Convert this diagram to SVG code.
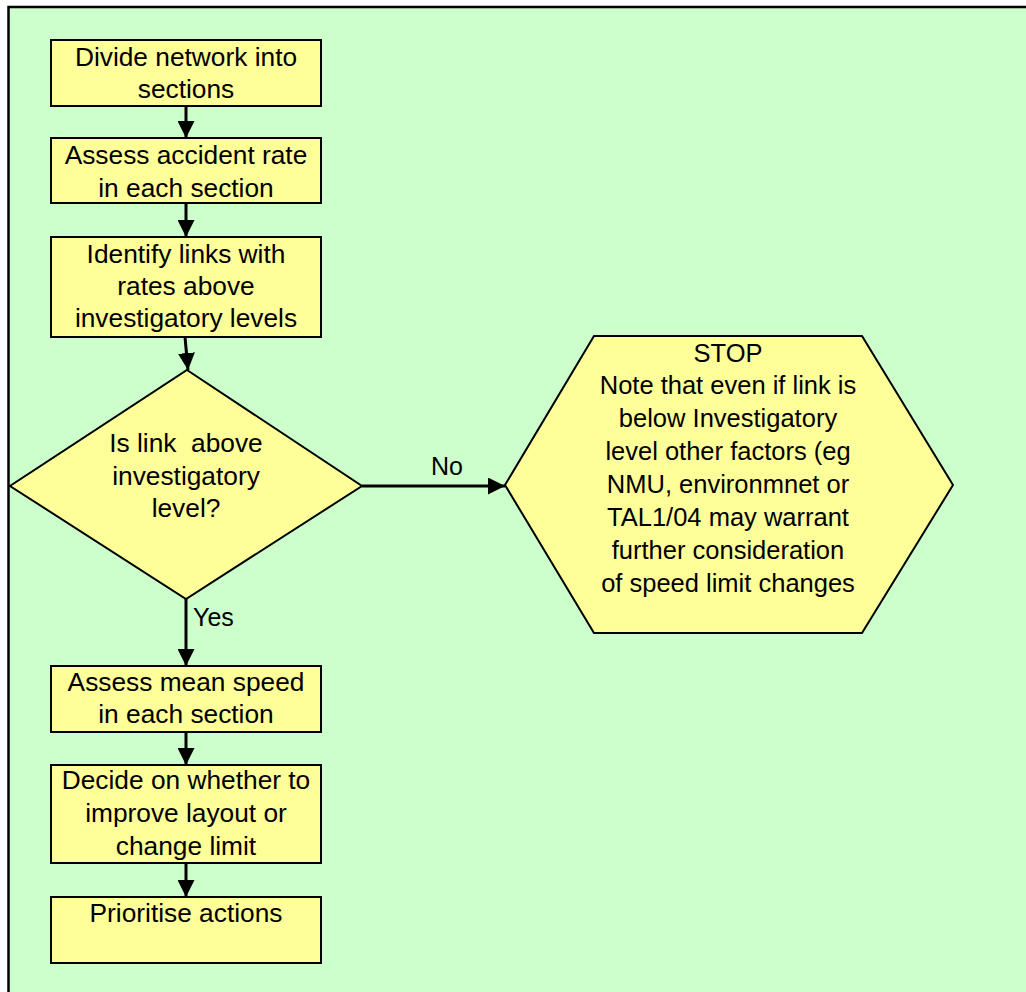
<svg xmlns="http://www.w3.org/2000/svg" width="1026" height="992" viewBox="0 0 1026 992">
<style>
.bg{fill:#CCFFCC;stroke:#000;stroke-width:2.5}
.n{fill:#FFFF99;stroke:#000;stroke-width:2}
.t{font-family:"Liberation Sans",Arial,sans-serif;font-size:26.3px;fill:#000;text-anchor:middle}
.h{font-size:25.5px}
.c{stroke:#000;stroke-width:3;fill:none}
.l{font-family:"Liberation Sans",Arial,sans-serif;font-size:25px;fill:#000}
</style>
<defs>
<marker id="ah" markerUnits="userSpaceOnUse" markerWidth="17" markerHeight="17" refX="16" refY="8" orient="auto" viewBox="0 0 16 16">
<path d="M0,0 L16,8 L0,16 z" fill="#000"/>
</marker>
</defs>
<rect width="1026" height="992" fill="#fff"/>
<rect class="bg" x="8.5" y="7" width="1030" height="1000"/>
<g id="connectors">
<line class="c" x1="186" y1="106" x2="186" y2="138" marker-end="url(#ah)"/>
<line class="c" x1="186" y1="203" x2="186" y2="237" marker-end="url(#ah)"/>
<line class="c" x1="185" y1="337" x2="188" y2="370" marker-end="url(#ah)"/>
<line class="c" x1="362" y1="486" x2="505" y2="486" marker-end="url(#ah)"/>
<line class="c" x1="186" y1="599" x2="186" y2="666" marker-end="url(#ah)"/>
<line class="c" x1="186" y1="732" x2="186" y2="765" marker-end="url(#ah)"/>
<line class="c" x1="186" y1="863" x2="186" y2="897" marker-end="url(#ah)"/>
<text class="l" x="431" y="475">No</text>
<text class="l" x="193" y="626">Yes</text>
</g>
<g id="n1">
<rect class="n" x="51" y="40" width="270" height="66"/>
<text class="t" x="186" y="66">Divide network into</text>
<text class="t" x="186" y="98">sections</text>
</g>
<g id="n2">
<rect class="n" x="51" y="138" width="270" height="65"/>
<text class="t" x="186" y="164">Assess accident rate</text>
<text class="t" x="186" y="197">in each section</text>
</g>
<g id="n3">
<rect class="n" x="51" y="237" width="270" height="100"/>
<text class="t" x="186" y="263">Identify links with</text>
<text class="t" x="186" y="295">rates above</text>
<text class="t" x="186" y="327">investigatory levels</text>
</g>
<g id="n4">
<polygon class="n" points="187,370 362,486 186,599 10,486"/>
<text class="t" x="186" y="452" style="white-space:pre">Is link  above</text>
<text class="t" x="186" y="485">investigatory</text>
<text class="t" x="186" y="517">level?</text>
</g>
<g id="n5">
<polygon class="n" points="594,336 862,336 953,485 862,633 594,633 505,485"/>
<text class="t h" x="728" y="362">STOP</text>
<text class="t h" x="728" y="394">Note that even if link is</text>
<text class="t h" x="728" y="427">below Investigatory</text>
<text class="t h" x="728" y="460">level other factors (eg</text>
<text class="t h" x="728" y="493">NMU, environmnet or</text>
<text class="t h" x="728" y="526">TAL1/04 may warrant</text>
<text class="t h" x="728" y="559">further consideration</text>
<text class="t h" x="728" y="592">of speed limit changes</text>
</g>
<g id="n6">
<rect class="n" x="51" y="666" width="270" height="66"/>
<text class="t" x="186" y="691">Assess mean speed</text>
<text class="t" x="186" y="723">in each section</text>
</g>
<g id="n7">
<rect class="n" x="51" y="765" width="270" height="98"/>
<text class="t" x="186" y="789">Decide on whether to</text>
<text class="t" x="186" y="822">improve layout or</text>
<text class="t" x="186" y="855">change limit</text>
</g>
<g id="n8">
<rect class="n" x="51" y="897" width="270" height="66"/>
<text class="t" x="186" y="922">Prioritise actions</text>
</g>
</svg>
